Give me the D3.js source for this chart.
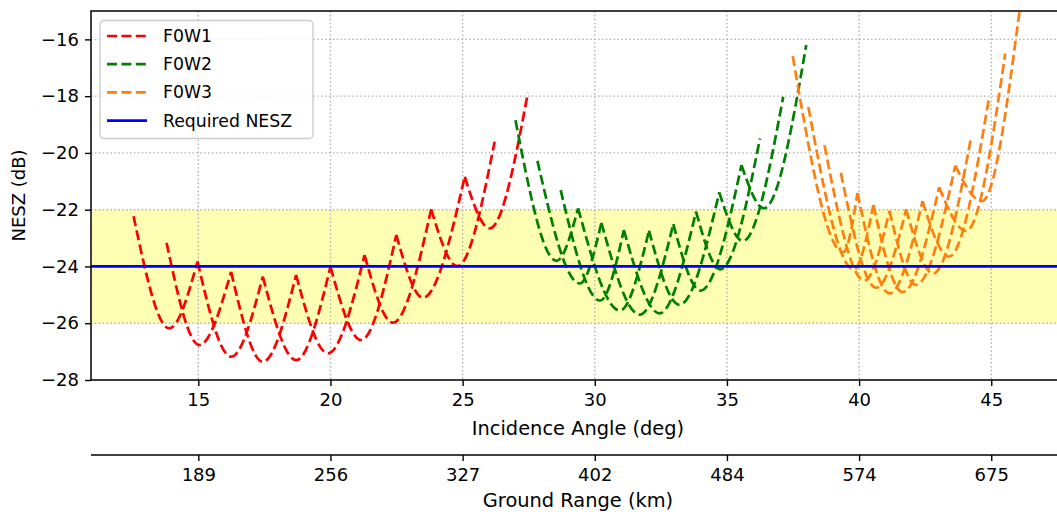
<!DOCTYPE html>
<html>
<head>
<meta charset="utf-8">
<script src="https://cdn.jsdelivr.net/npm/d3@7.9.0/dist/d3.min.js"></script>
<style>
  body { margin: 0; background: #fff; }
  svg { display: block; font-family: "DejaVu Sans", sans-serif; }
</style>
</head>
<body>
<svg id="chart" width="1057" height="512"></svg>
<script>
// ---------------------------------------------------------
// Data
// ---------------------------------------------------------
const xTicks = [15, 20, 25, 30, 35, 40, 45];
const groundRangeLabels = ["189", "256", "327", "402", "484", "574", "675"];
const yTicks = [-28, -26, -24, -22, -20, -18, -16];
const requiredNesz = -24;
const bandRange = [-26, -22];

// F0W1: each beam runs from edge[k] to edge[k+2]
const f0w1EdgeAngle = [12.55, 13.80, 14.97, 16.24, 17.44, 18.70, 20.00, 21.29, 22.49, 23.81, 25.08, 26.21, 27.47];
const f0w1EdgeNesz  = [-22.23, -23.17, -23.83, -24.19, -24.36, -24.30, -24.01, -23.60, -22.89, -21.99, -20.84, -19.61, -17.88];
const f0w1MinAngle  = [13.90, 15.04, 16.24, 17.44, 18.70, 19.90, 21.16, 22.36, 23.50, 24.80, 26.02];
const f0w1MinNesz   = [-26.18, -26.77, -27.18, -27.36, -27.30, -27.06, -26.59, -25.98, -25.10, -23.99, -22.66];

// F0W2: each beam runs from edge[k] to edge[k+3]
const f0w2EdgeAngle = [27.00, 27.83, 28.71, 29.37, 30.25, 31.10, 32.05, 32.97, 33.83, 34.71, 35.55, 36.25, 37.13, 38.00];
const f0w2EdgeNesz  = [-18.85, -20.28, -21.31, -21.95, -22.46, -22.72, -22.74, -22.51, -22.07, -21.39, -20.43, -19.49, -18.02, -16.20];
const f0w2MinAngle  = [28.55, 29.43, 30.20, 30.95, 31.70, 32.45, 33.20, 34.00, 34.75, 35.60, 36.40];
const f0w2MinNesz   = [-23.80, -24.60, -25.20, -25.55, -25.70, -25.65, -25.35, -24.85, -24.10, -23.10, -21.95];

// F0W3: each beam runs from edge[k] to edge[k+4]
const f0w3EdgeAngle = [37.49, 38.08, 38.69, 39.31, 39.94, 40.54, 41.15, 41.78, 42.40, 43.03, 43.64, 44.24, 44.90, 45.53, 46.07];
const f0w3EdgeNesz  = [-16.59, -18.38, -19.73, -20.70, -21.41, -21.84, -22.04, -21.99, -21.70, -21.21, -20.45, -19.43, -18.14, -16.50, -15.00];
const f0w3MinAngle  = [39.40, 39.80, 40.20, 40.65, 41.15, 41.65, 42.15, 42.80, 43.40, 44.05, 44.65];
const f0w3MinNesz   = [-23.50, -24.10, -24.50, -24.75, -24.95, -24.90, -24.65, -24.25, -23.65, -22.75, -21.70];

const swaths = [
  { name: "F0W1", color: "#ff0000", span: 2, edgeAngle: f0w1EdgeAngle, edgeNesz: f0w1EdgeNesz, minAngle: f0w1MinAngle, minNesz: f0w1MinNesz },
  { name: "F0W2", color: "#008000", span: 3, edgeAngle: f0w2EdgeAngle, edgeNesz: f0w2EdgeNesz, minAngle: f0w2MinAngle, minNesz: f0w2MinNesz },
  { name: "F0W3", color: "#ff7f0e", span: 4, edgeAngle: f0w3EdgeAngle, edgeNesz: f0w3EdgeNesz, minAngle: f0w3MinAngle, minNesz: f0w3MinNesz }
];

// beams as [start, minimum, end] point triples
function beamsOf(s) {
  return s.minAngle.map((m, k) => [
    [s.edgeAngle[k], s.edgeNesz[k]],
    [m, s.minNesz[k]],
    [s.edgeAngle[k + s.span], s.edgeNesz[k + s.span]]
  ]);
}

// ---------------------------------------------------------
// Layout
// ---------------------------------------------------------
const svg = d3.select("#chart");
const plot = { left: 91, right: 1065, top: 11, bottom: 380 };
const tickFont = 18;
const labelFont = 19.4;
const legendFont = 17.3;

const x = d3.scaleLinear().domain([10.94, 47.79]).range([plot.left, plot.right]);
const y = d3.scaleLinear().domain([-28, -15]).range([plot.bottom, plot.top]);

svg.append("defs").append("clipPath").attr("id", "clip")
  .append("rect")
  .attr("x", plot.left).attr("y", plot.top)
  .attr("width", plot.right - plot.left).attr("height", plot.bottom - plot.top);

const inner = svg.append("g").attr("clip-path", "url(#clip)");

// yellow band
inner.append("rect")
  .attr("x", plot.left)
  .attr("width", plot.right - plot.left)
  .attr("y", y(bandRange[1]))
  .attr("height", y(bandRange[0]) - y(bandRange[1]))
  .attr("fill", "#ffffb3");

// grid
inner.append("g").selectAll("line")
  .data(xTicks).join("line")
  .attr("x1", d => x(d)).attr("x2", d => x(d))
  .attr("y1", plot.top).attr("y2", plot.bottom)
  .attr("stroke", "#b0b0b0").attr("stroke-width", 1.4).attr("stroke-dasharray", "1.5,2.4");
inner.append("g").selectAll("line")
  .data(yTicks).join("line")
  .attr("x1", plot.left).attr("x2", plot.right)
  .attr("y1", d => y(d)).attr("y2", d => y(d))
  .attr("stroke", "#b0b0b0").attr("stroke-width", 1.4).attr("stroke-dasharray", "1.5,2.4");

// beams
const line = d3.line()
  .x(d => x(d[0]))
  .y(d => y(d[1]))
  .curve(d3.curveMonotoneX);

swaths.forEach(s => {
  inner.append("g").selectAll("path")
    .data(beamsOf(s)).join("path")
    .attr("d", line)
    .attr("fill", "none")
    .attr("stroke", s.color)
    .attr("stroke-width", 2.7)
    .attr("stroke-dasharray", "10,4.4");
});

// required NESZ
inner.append("line")
  .attr("x1", plot.left).attr("x2", plot.right)
  .attr("y1", y(requiredNesz)).attr("y2", y(requiredNesz))
  .attr("stroke", "#0000ff").attr("stroke-width", 2.7);

// ---------------------------------------------------------
// Axes
// ---------------------------------------------------------
function styleAxis(g) {
  g.select(".domain").remove();
  g.selectAll(".tick line").attr("stroke", "#000").attr("stroke-width", 1.4);
  g.selectAll(".tick text").attr("fill", "#000").attr("font-size", tickFont).attr("font-family", "DejaVu Sans");
}

svg.append("g")
  .attr("transform", `translate(0,${plot.bottom})`)
  .call(d3.axisBottom(x).tickValues(xTicks).tickSize(6).tickPadding(7).tickFormat(d3.format("d")))
  .call(styleAxis);

svg.append("g")
  .attr("transform", `translate(${plot.left},0)`)
  .call(d3.axisLeft(y).tickValues(yTicks).tickSize(6).tickPadding(6).tickFormat(d3.format("d")))
  .call(styleAxis);

// spines
svg.append("path")
  .attr("d", `M${plot.left},${plot.bottom}V${plot.top}H${plot.right}V${plot.bottom}Z`)
  .attr("fill", "none").attr("stroke", "#000").attr("stroke-width", 1.5);

svg.append("text")
  .attr("x", (plot.left + plot.right) / 2).attr("y", 428)
  .attr("text-anchor", "middle").attr("dominant-baseline", "central")
  .attr("font-size", labelFont)
  .text("Incidence Angle (deg)");

svg.append("text")
  .attr("transform", `translate(18,${(plot.top + plot.bottom) / 2}) rotate(-90)`)
  .attr("text-anchor", "middle").attr("dominant-baseline", "central")
  .attr("font-size", tickFont)
  .text("NESZ (dB)");

// ground range axis
const gr = svg.append("g")
  .attr("transform", "translate(0,455)")
  .call(d3.axisBottom(x).tickValues(xTicks).tickSize(6).tickPadding(7)
    .tickFormat((d, i) => groundRangeLabels[i]))
  .call(styleAxis);
gr.append("line")
  .attr("x1", plot.left).attr("x2", plot.right)
  .attr("stroke", "#000").attr("stroke-width", 1.5);

svg.append("text")
  .attr("x", (plot.left + plot.right) / 2).attr("y", 500)
  .attr("text-anchor", "middle").attr("dominant-baseline", "central")
  .attr("font-size", labelFont)
  .text("Ground Range (km)");

// ---------------------------------------------------------
// Legend
// ---------------------------------------------------------
const legendItems = [
  { label: "F0W1", color: "#ff0000", dash: "10,4.4" },
  { label: "F0W2", color: "#008000", dash: "10,4.4" },
  { label: "F0W3", color: "#ff7f0e", dash: "10,4.4" },
  { label: "Required NESZ", color: "#0000ff", dash: null }
];

const legend = svg.append("g");
legend.append("rect")
  .attr("x", 100).attr("y", 20.5).attr("width", 213).attr("height", 118)
  .attr("rx", 4)
  .attr("fill", "#fff").attr("fill-opacity", 0.8)
  .attr("stroke", "#cccccc").attr("stroke-width", 1.4);

const rows = legend.selectAll("g.row")
  .data(legendItems).join("g")
  .attr("class", "row")
  .attr("transform", (d, i) => `translate(0,${36 + i * 28.2})`);

rows.append("line")
  .attr("x1", 107).attr("x2", 147)
  .attr("stroke", d => d.color).attr("stroke-width", 2.7)
  .attr("stroke-dasharray", d => d.dash);

rows.append("text")
  .attr("x", 163).attr("dominant-baseline", "central")
  .attr("font-size", legendFont)
  .text(d => d.label);
</script>
</body>
</html>
